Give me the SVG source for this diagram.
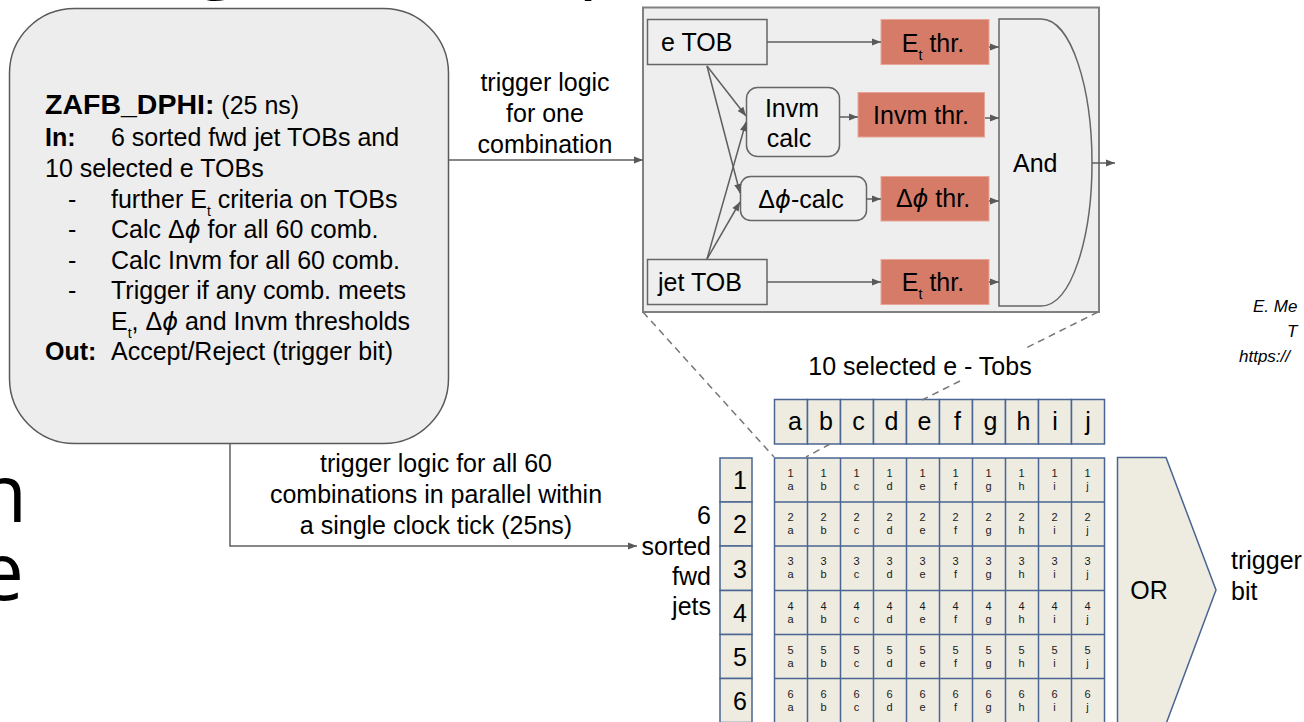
<svg xmlns="http://www.w3.org/2000/svg" width="1304" height="722" viewBox="0 0 1304 722">
  <style>
    .t { font-family: "Liberation Sans", Arial, sans-serif; font-size: 25px; fill: #000; }
    .b { font-weight: bold; }
    .sub { font-size: 14px; }
    .phi { font-family: "DejaVu Sans", sans-serif; font-style: italic; font-size: 24px; }
    .ital { font-family: "Liberation Sans", Arial, sans-serif; font-style: italic; font-size: 17px; fill: #000; }
    .frag { font-family: "Open Sans", "Noto Sans", sans-serif; font-size: 80px; fill: #000; }
    .mid { text-anchor: middle; }
    .end { text-anchor: end; }
    .conn { fill: none; stroke: #5f5f5f; stroke-width: 1.5; }
    .dash { fill: none; stroke: #777; stroke-width: 1.5; stroke-dasharray: 7 5; }
    .grey { fill: #efefef; stroke: #666; stroke-width: 1.5; }
    .thr { fill: #d67b68; stroke: #e8a595; stroke-width: 1; }
    .cell { fill: #eeebe1; stroke: #4a6592; stroke-width: 1.5; }
    .cn { font-family: "Liberation Sans", Arial, sans-serif; font-size: 11px; fill: #1a1a1a; text-anchor: middle; }
  </style>
  <defs>
    <marker id="ah" viewBox="0 0 10 10" refX="10" refY="5" markerWidth="10" markerHeight="9" markerUnits="userSpaceOnUse" orient="auto">
      <path d="M0,1 L10,5 L0,9 z" fill="#595959"/>
    </marker>
  </defs>

  <rect width="1304" height="722" fill="#fff"/>

  <!-- fragments of the slide title and side headings running off the edges -->
  <g id="edge-fragments">
    <text class="frag" x="196" y="-18">g</text>
    <text class="frag" x="578" y="-18">p</text>
    <text class="frag end" x="27" y="522">n</text>
    <text class="frag end" x="24" y="600">e</text>
    <text class="ital" x="1253" y="312">E. Me</text>
    <text class="ital" x="1287" y="337">T</text>
    <text class="ital" x="1239" y="362">https://</text>
  </g>

  <!-- algorithm summary -->
  <g id="summary">
    <rect x="9.5" y="8.5" width="439" height="435" rx="65" ry="65" fill="#ededed" stroke="#5a5a5a" stroke-width="1.5"/>
    <text class="t" x="45" y="114"><tspan class="b" font-size="28.5">ZAFB_DPHI:</tspan> (25 ns)</text>
    <text class="t" x="45" y="146"><tspan class="b">In:</tspan></text>
    <text class="t" x="111" y="146">6 sorted fwd jet TOBs and</text>
    <text class="t" x="45" y="177">10 selected e TOBs</text>
    <text class="t" x="68" y="208">-</text>
    <text class="t" x="111" y="208">further E<tspan class="sub" dy="8">t</tspan><tspan dy="-8"> criteria on TOBs</tspan></text>
    <text class="t" x="68" y="238">-</text>
    <text class="t" x="111" y="238">Calc Δ<tspan class="phi">ϕ</tspan> for all 60 comb.</text>
    <text class="t" x="68" y="269">-</text>
    <text class="t" x="111" y="269">Calc Invm for all 60 comb.</text>
    <text class="t" x="68" y="299">-</text>
    <text class="t" x="111" y="299">Trigger if any comb. meets</text>
    <text class="t" x="111" y="330">E<tspan class="sub" dy="8">t</tspan><tspan dy="-8">, Δ</tspan><tspan class="phi">ϕ</tspan> and Invm thresholds</text>
    <text class="t" x="45" y="360"><tspan class="b">Out:</tspan></text>
    <text class="t" x="111" y="360">Accept/Reject (trigger bit)</text>
  </g>

  <!-- logic for a single combination -->
  <g id="combination-logic">
    <rect x="643" y="7.5" width="456" height="304.5" fill="#eeeeee" stroke="#808080" stroke-width="2"/>
  </g>
  <g id="e-tob">
    <rect class="grey" x="647.5" y="19.5" width="119.5" height="45"/>
    <text class="t" x="661" y="51">e TOB</text>
  </g>
  <g id="jet-tob">
    <rect class="grey" x="647.5" y="259.5" width="119.5" height="45"/>
    <text class="t" x="658" y="291">jet TOB</text>
  </g>
  <g id="invm-calc">
    <rect class="grey" x="746.5" y="87.5" width="93" height="69" rx="11"/>
    <text class="t mid" x="792" y="117">Invm</text>
    <text class="t mid" x="789" y="147">calc</text>
  </g>
  <g id="dphi-calc">
    <rect class="grey" x="740.5" y="176.5" width="126" height="44" rx="10"/>
    <text class="t mid" x="801" y="208">Δ<tspan class="phi">ϕ</tspan>-calc</text>
  </g>
  <g id="et-thr-e">
    <rect class="thr" x="881" y="19.5" width="108" height="45"/>
    <text class="t mid" x="933" y="52">E<tspan class="sub" dy="8">t</tspan><tspan dy="-8"> thr.</tspan></text>
  </g>
  <g id="invm-thr">
    <rect class="thr" x="858" y="92.5" width="126.5" height="44.5"/>
    <text class="t mid" x="921" y="124">Invm thr.</text>
  </g>
  <g id="dphi-thr">
    <rect class="thr" x="881" y="176.5" width="108" height="44.5"/>
    <text class="t mid" x="933" y="207">Δ<tspan class="phi">ϕ</tspan> thr.</text>
  </g>
  <g id="et-thr-jet">
    <rect class="thr" x="881" y="259.5" width="108" height="45"/>
    <text class="t mid" x="933" y="291">E<tspan class="sub" dy="8">t</tspan><tspan dy="-8"> thr.</tspan></text>
  </g>
  <g id="and-gate">
    <path class="grey" d="M999,19 L1041,19 C1072,19 1092,90 1092,163 C1092,236 1072,306 1041,306 L999,306 Z" fill="#eeeeee"/>
    <text class="t" x="1013" y="172">And</text>
  </g>

  <!-- 10 x 6 combination matrix -->
  <g id="e-tob-label">
    <rect x="800" y="350" width="240" height="32" fill="#fff"/>
    <text class="t mid" x="920" y="375">10 selected e - Tobs</text>
  </g>
  <g id="jet-label">
    <text class="t end" x="711" y="524">6</text>
    <text class="t end" x="711" y="555">sorted</text>
    <text class="t end" x="711" y="585">fwd</text>
    <text class="t end" x="711" y="615">jets</text>
  </g>
  <g id="e-tob-row">
    <rect class="cell" x="774.5" y="399.5" width="33" height="44.5"/>
    <rect class="cell" x="807.5" y="399.5" width="33" height="44.5"/>
    <rect class="cell" x="840.5" y="399.5" width="33" height="44.5"/>
    <rect class="cell" x="873.5" y="399.5" width="33" height="44.5"/>
    <rect class="cell" x="906.5" y="399.5" width="33" height="44.5"/>
    <rect class="cell" x="939.5" y="399.5" width="33" height="44.5"/>
    <rect class="cell" x="972.5" y="399.5" width="33" height="44.5"/>
    <rect class="cell" x="1005.5" y="399.5" width="33" height="44.5"/>
    <rect class="cell" x="1038.5" y="399.5" width="33" height="44.5"/>
    <rect class="cell" x="1071.5" y="399.5" width="33" height="44.5"/>
    <text class="t mid" x="795 826 858.5 891.5 924.5 957.5 990.5 1023.5 1055 1088" y="430">abcdefghij</text>
  </g>
  <g id="jet-column">
    <rect class="cell" x="720" y="458" width="32" height="44"/>
    <rect class="cell" x="720" y="502" width="32" height="44"/>
    <rect class="cell" x="720" y="546" width="32" height="44.5"/>
    <rect class="cell" x="720" y="590.5" width="32" height="44"/>
    <rect class="cell" x="720" y="634.5" width="32" height="44"/>
    <rect class="cell" x="720" y="678.5" width="32" height="44"/>
    <text class="t mid" x="740" y="489">1</text>
    <text class="t mid" x="740" y="533">2</text>
    <text class="t mid" x="740" y="578">3</text>
    <text class="t mid" x="740" y="622">4</text>
    <text class="t mid" x="740" y="666">5</text>
    <text class="t mid" x="740" y="710">6</text>
  </g>
  <g id="matrix">
    <rect x="774.5" y="458" width="330" height="266" class="cell"/>
    <path d="M807.5,458V724M840.5,458V724M873.5,458V724M906.5,458V724M939.5,458V724M972.5,458V724M1005.5,458V724M1038.5,458V724M1071.5,458V724M774.5,502H1104.5M774.5,546H1104.5M774.5,590.5H1104.5M774.5,634.5H1104.5M774.5,678.5H1104.5" fill="none" stroke="#4a6592" stroke-width="1.5"/>
    <text class="cn" x="790.5 823.5 856.5 889.5 922.5 955.5 988.5 1021.5 1054.5 1087.5" y="477">1111111111</text>
    <text class="cn" x="790.5 823.5 856.5 889.5 922.5 955.5 988.5 1021.5 1054.5 1087.5" y="490">abcdefghij</text>
    <text class="cn" x="790.5 823.5 856.5 889.5 922.5 955.5 988.5 1021.5 1054.5 1087.5" y="521">2222222222</text>
    <text class="cn" x="790.5 823.5 856.5 889.5 922.5 955.5 988.5 1021.5 1054.5 1087.5" y="534">abcdefghij</text>
    <text class="cn" x="790.5 823.5 856.5 889.5 922.5 955.5 988.5 1021.5 1054.5 1087.5" y="565">3333333333</text>
    <text class="cn" x="790.5 823.5 856.5 889.5 922.5 955.5 988.5 1021.5 1054.5 1087.5" y="578">abcdefghij</text>
    <text class="cn" x="790.5 823.5 856.5 889.5 922.5 955.5 988.5 1021.5 1054.5 1087.5" y="610">4444444444</text>
    <text class="cn" x="790.5 823.5 856.5 889.5 922.5 955.5 988.5 1021.5 1054.5 1087.5" y="623">abcdefghij</text>
    <text class="cn" x="790.5 823.5 856.5 889.5 922.5 955.5 988.5 1021.5 1054.5 1087.5" y="654">5555555555</text>
    <text class="cn" x="790.5 823.5 856.5 889.5 922.5 955.5 988.5 1021.5 1054.5 1087.5" y="667">abcdefghij</text>
    <text class="cn" x="790.5 823.5 856.5 889.5 922.5 955.5 988.5 1021.5 1054.5 1087.5" y="698">6666666666</text>
    <text class="cn" x="790.5 823.5 856.5 889.5 922.5 955.5 988.5 1021.5 1054.5 1087.5" y="711">abcdefghij</text>
  </g>
  <g id="or-gate">
    <path class="cell" d="M1117.5,457.5 L1166,457.5 L1216,590 L1166,724 L1117.5,724 Z"/>
    <text class="t mid" x="1149" y="599">OR</text>
  </g>
  <g id="trigger-bit">
    <text class="t" x="1231" y="569">trigger</text>
    <text class="t" x="1231" y="600">bit</text>
  </g>

  <!-- connectors -->
  <g id="connectors">
    <path class="conn" d="M449,160 H643" marker-end="url(#ah)"/>
    <text class="t mid" x="545" y="91">trigger logic</text>
    <text class="t mid" x="545" y="122">for one</text>
    <text class="t mid" x="545" y="153">combination</text>

    <path class="conn" d="M230,444 V546 H637" marker-end="url(#ah)"/>
    <text class="t mid" x="436" y="472">trigger logic for all 60</text>
    <text class="t mid" x="436" y="503">combinations in parallel within</text>
    <text class="t mid" x="436" y="534">a single clock tick (25ns)</text>

    <path class="conn" d="M767,42 H881" marker-end="url(#ah)"/>
    <path class="conn" d="M767,282 H881" marker-end="url(#ah)"/>
    <path class="conn" d="M839.5,117 H858" marker-end="url(#ah)"/>
    <path class="conn" d="M866.5,199 H881" marker-end="url(#ah)"/>
    <path class="conn" d="M707,66 L746,116" marker-end="url(#ah)"/>
    <path class="conn" d="M707,66 L740,193" marker-end="url(#ah)"/>
    <path class="conn" d="M707,259 L746,122" marker-end="url(#ah)"/>
    <path class="conn" d="M707,259 L740,202" marker-end="url(#ah)"/>
    <path class="conn" d="M989,47 H999" marker-end="url(#ah)"/>
    <path class="conn" d="M985,118 H999" marker-end="url(#ah)"/>
    <path class="conn" d="M989,201 H999" marker-end="url(#ah)"/>
    <path class="conn" d="M989,282 H999" marker-end="url(#ah)"/>
    <path class="conn" d="M1092,163 H1115" marker-end="url(#ah)"/>

    <path class="dash" d="M643,312 L774,457"/>
    <path class="dash" d="M1098,312 L1024,349"/>
    <path class="dash" d="M960,381 L922,400"/>
    <path class="dash" d="M830,444 L806,457"/>
  </g>
</svg>
